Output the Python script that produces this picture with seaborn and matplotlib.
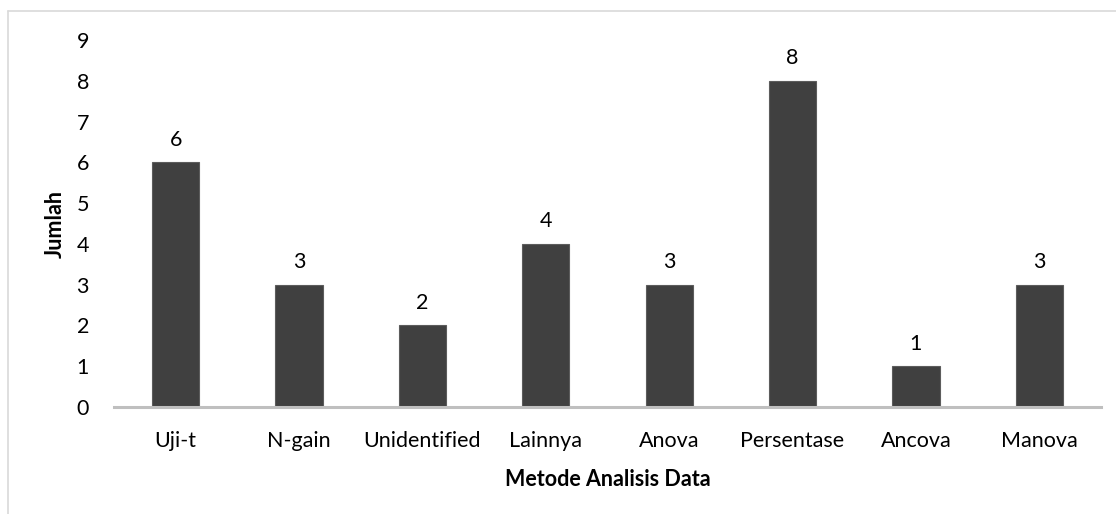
import matplotlib
matplotlib.use("Agg")
import matplotlib.pyplot as plt
from matplotlib.lines import Line2D
import seaborn as sns
import pandas as pd

categories = ["Uji-t", "N-gain", "Unidentified", "Lainnya", "Anova",
              "Persentase", "Ancova", "Manova"]
counts = [6, 3, 2, 4, 3, 8, 1, 3]
y_ticks = [0, 1, 2, 3, 4, 5, 6, 7, 8, 9]

sns.set_theme(style="white")
plt.rcParams["font.family"] = ["Lato", "DejaVu Sans"]

FS = 15.5

df = pd.DataFrame({"Metode": categories, "Jumlah": counts})

fig = plt.figure(figsize=(11.16, 5.14), dpi=100)
ax = fig.add_axes([114 / 1116, 1 - 407 / 514, 987 / 1116, 367 / 514])

sns.barplot(data=df, x="Metode", y="Jumlah", color="#404040",
            width=0.383, edgecolor="#5c5c5c", linewidth=0.8,
            saturation=1, ax=ax)

for container in ax.containers:
    ax.bar_label(container, labels=[str(v) for v in counts],
                 padding=9, fontsize=FS, color="#000000")

ax.set_ylim(0, 9)
ax.set_xlim(-0.5, len(categories) - 0.5)
ax.set_yticks(y_ticks)
ax.set_yticklabels([str(t) for t in y_ticks])
ax.tick_params(axis="both", length=0, labelsize=FS, colors="#000000")
ax.tick_params(axis="y", pad=18)
ax.tick_params(axis="x", pad=17)

for side in ["top", "right", "left"]:
    ax.spines[side].set_visible(False)
ax.spines["bottom"].set_color("#bfbfbf")
ax.spines["bottom"].set_linewidth(2.2)

ax.set_xlabel("Metode Analisis Data", fontsize=FS, fontweight="bold",
              labelpad=13, color="#000000")
ax.set_ylabel("Jumlah", fontsize=FS, fontweight="bold",
              labelpad=8, color="#000000")

# light frame around the chart area (left and top edges)
fig.add_artist(Line2D([8 / 1116, 8 / 1116], [0, 1 - 11 / 514],
                      transform=fig.transFigure, color="#d9d9d9", lw=1.2))
fig.add_artist(Line2D([8 / 1116, 1], [1 - 11 / 514, 1 - 11 / 514],
                      transform=fig.transFigure, color="#d9d9d9", lw=1.2))

fig.savefig("out.png", dpi=100, facecolor="white")
